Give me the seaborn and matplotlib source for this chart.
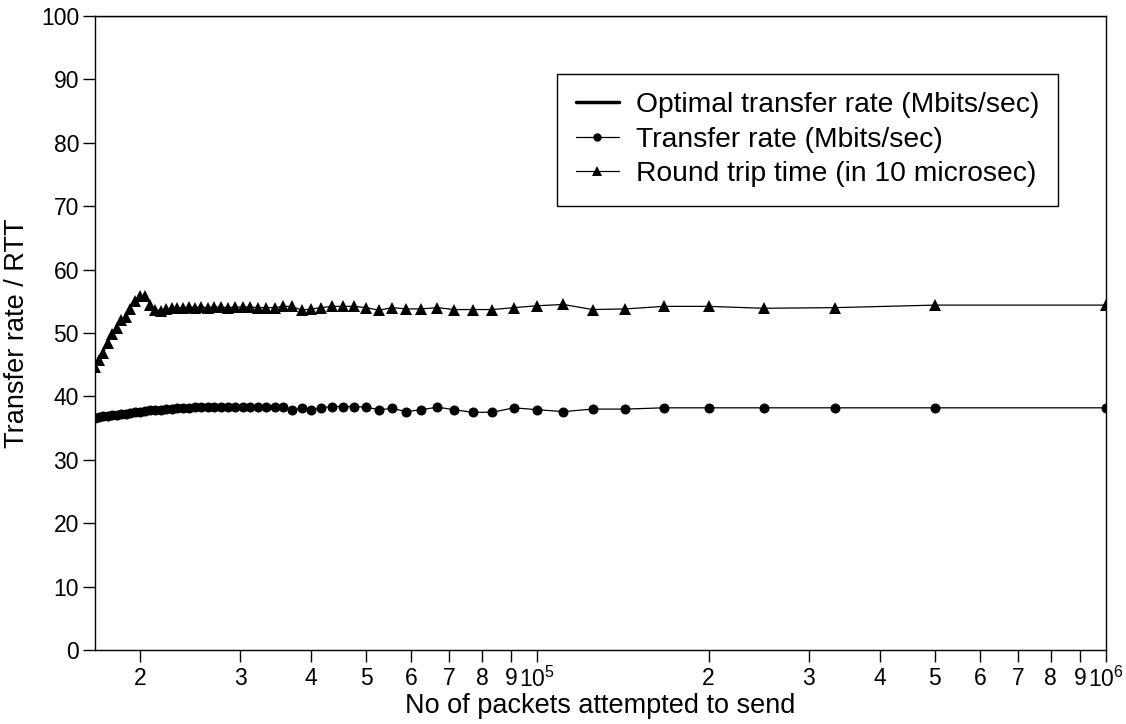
import matplotlib
matplotlib.use("Agg")
import matplotlib.pyplot as plt
from matplotlib.lines import Line2D
from matplotlib.ticker import LogLocator, FuncFormatter
import numpy as np
import pandas as pd
import seaborn as sns

# Number of packets attempted per run (1e6 / k for k = 60 .. 1)
packets = [16667, 16949, 17241, 17544, 17857, 18182, 18519, 18868, 19231, 19608,
           20000, 20408, 20833, 21277, 21739, 22222, 22727, 23256, 23810, 24390,
           25000, 25641, 26316, 27027, 27778, 28571, 29412, 30303, 31250, 32258,
           33333, 34483, 35714, 37037, 38462, 40000, 41667, 43478, 45455, 47619,
           50000, 52632, 55556, 58824, 62500, 66667, 71429, 76923, 83333, 90909,
           100000, 111111, 125000, 142857, 166667, 200000, 250000, 333333, 500000, 1000000]

# Round trip time (units of 10 microseconds)
rtt = [44.7, 45.7, 46.9, 48.4, 49.9, 50.8, 52.0, 52.5, 53.8, 55.1,
       55.8, 55.8, 54.4, 53.7, 53.5, 53.8, 53.9, 54.0, 54.0, 54.1,
       54.0, 54.1, 54.0, 54.1, 54.1, 54.0, 54.1, 54.1, 54.1, 54.0,
       54.0, 54.0, 54.2, 54.2, 53.6, 53.8, 54.0, 54.2, 54.2, 54.2,
       54.0, 53.6, 54.0, 53.8, 53.8, 54.0, 53.7, 53.7, 53.7, 54.0,
       54.3, 54.5, 53.7, 53.8, 54.2, 54.2, 53.9, 54.0, 54.4, 54.4]

# Measured transfer rate (Mbits/sec)
rate = [36.6, 36.8, 36.9, 36.9, 37.0, 37.1, 37.2, 37.3, 37.4, 37.5,
        37.6, 37.7, 37.8, 37.9, 37.9, 38.0, 38.0, 38.1, 38.2, 38.2,
        38.3, 38.3, 38.3, 38.4, 38.4, 38.4, 38.4, 38.3, 38.4, 38.4,
        38.4, 38.4, 38.3, 37.9, 38.1, 37.9, 38.2, 38.4, 38.4, 38.4,
        38.3, 37.9, 38.1, 37.6, 37.9, 38.3, 37.9, 37.5, 37.5, 38.2,
        37.9, 37.6, 38.0, 38.0, 38.2, 38.2, 38.2, 38.2, 38.2, 38.2]

# Optimal transfer rate of the link (Mbits/sec)
optimal_rate = 100.0

labels = ["Optimal transfer rate (Mbits/sec)",
          "Transfer rate (Mbits/sec)",
          "Round trip time (in 10 microsec)"]

sns.set_style("ticks")
plt.rcParams["font.family"] = ["Liberation Sans", "DejaVu Sans"]
plt.rcParams["mathtext.default"] = "regular"
plt.rcParams["text.color"] = "black"
plt.rcParams["axes.labelcolor"] = "black"
plt.rcParams["xtick.color"] = "black"
plt.rcParams["ytick.color"] = "black"

df = pd.DataFrame({"packets": packets, "rate": rate, "rtt": rtt})

fig = plt.figure(figsize=(11.26, 7.24), dpi=100)
ax = fig.add_axes([0.0844, 0.1022, 0.8978, 0.8757])

# optimal rate sits on the top edge of the plot
ax.axhline(optimal_rate, color="black", lw=1.0, zorder=3)
sns.lineplot(data=df, x="packets", y="rate", ax=ax, color="black", lw=0.9,
             marker="o", markersize=7.2, markeredgewidth=0, sort=False)
sns.lineplot(data=df, x="packets", y="rtt", ax=ax, color="black", lw=0.9,
             marker="^", markersize=9, markeredgewidth=0, sort=False)

ax.set_xscale("log")
ax.set_xlim(packets[0], packets[-1])
ax.set_ylim(0, 100)
ax.set_yticks(np.arange(0, 101, 10))

ax.xaxis.set_major_locator(LogLocator(base=10, subs=(1.0,)))
ax.xaxis.set_minor_locator(LogLocator(base=10, subs=np.arange(2, 10)))


def major_fmt(v, pos):
    e = int(round(np.log10(v)))
    return r"$10^{%d}$" % e


def minor_fmt(v, pos):
    e = np.floor(np.log10(v) + 1e-9)
    return "%d" % int(round(v / 10 ** e))


ax.xaxis.set_major_formatter(FuncFormatter(major_fmt))
ax.xaxis.set_minor_formatter(FuncFormatter(minor_fmt))

for spine in ax.spines.values():
    spine.set_linewidth(1.0)
    spine.set_color("black")
    spine.set_visible(True)

ax.tick_params(axis="both", which="both", direction="out", length=8.5,
               width=1.0, colors="black", labelsize=16.5)
ax.tick_params(axis="x", which="both", pad=3.5)
ax.tick_params(axis="y", pad=3)

ax.set_xlabel("No of packets attempted to send", fontsize=19.5, labelpad=1)
ax.set_ylabel("Transfer rate / RTT", fontsize=19.5, labelpad=8)

handles = [
    Line2D([], [], color="black", lw=2.5),
    Line2D([], [], color="black", lw=0.9, marker="o", markersize=6,
           markeredgewidth=0),
    Line2D([], [], color="black", lw=0.9, marker="^", markersize=7,
           markeredgewidth=0),
]
leg = ax.legend(handles, labels, loc="upper right",
                bbox_to_anchor=(0.9525, 0.9085), fontsize=20.3,
                frameon=True, fancybox=False, framealpha=1,
                edgecolor="black", borderpad=0.65, labelspacing=0.3,
                handlelength=1.55, handletextpad=0.6, borderaxespad=0)
leg.get_frame().set_linewidth(1.0)

fig.savefig("out.png", dpi=100)
